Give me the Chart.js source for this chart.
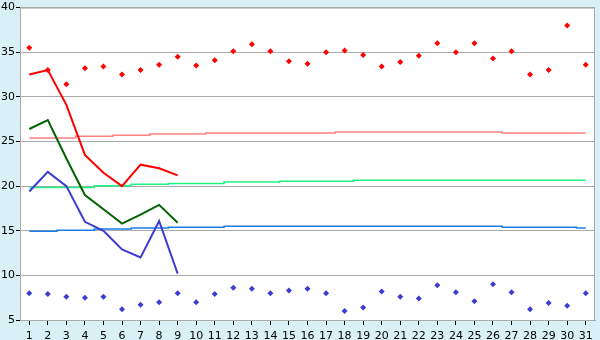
<!DOCTYPE html>
<html>
<head>
<meta charset="utf-8">
<script src="https://cdn.jsdelivr.net/npm/chart.js@4"></script>
<style>
  html, body { margin: 0; padding: 0; background: #daf0f7; }
  canvas { display: block; }
</style>
</head>
<body>
<canvas id="chart" width="600" height="340"></canvas>
<script>
const days = ['1','2','3','4','5','6','7','8','9','10','11','12','13','14','15','16',
  '17','18','19','20','21','22','23','24','25','26','27','28','29','30','31'];

// daily extremes (markers)
const dailyMax = [35.5, 33.0, 31.4, 33.2, 33.4, 32.5, 33.0, 33.6, 34.5, 33.5, 34.1, 35.1, 35.9, 35.1, 34.0, 33.7,
  35.0, 35.2, 34.7, 33.4, 33.9, 34.6, 36.0, 35.0, 36.0, 34.3, 35.1, 32.5, 33.0, 38.0, 33.6];
const dailyMin = [8.0, 7.9, 7.6, 7.5, 7.6, 6.2, 6.7, 7.0, 8.0, 7.0, 7.9, 8.6, 8.5, 8.0, 8.3, 8.5,
  8.0, 6.0, 6.4, 8.2, 7.6, 7.4, 8.9, 8.1, 7.1, 9.0, 8.1, 6.2, 6.9, 6.6, 8.0];

// current month lines
const curMax  = [32.5, 33.0, 29.1, 23.5, 21.5, 20.0, 22.4, 22.0, 21.2];
const curMean = [26.4, 27.4, 23.1, 19.0, 17.4, 15.8, 16.8, 17.9, 15.9];
const curMin  = [19.4, 21.6, 20.0, 16.0, 15.0, 12.9, 12.0, 16.1, 10.2];

// long-term averages
const avgMax  = [25.4, 25.4, 25.4, 25.6, 25.6, 25.7, 25.7, 25.85, 25.85, 25.85, 25.95, 25.95, 25.95, 25.95, 25.95, 25.95,
  25.95, 26.05, 26.05, 26.05, 26.05, 26.05, 26.05, 26.05, 26.05, 26.05, 25.95, 25.95, 25.95, 25.95, 25.95];
const avgMean = [19.85, 19.85, 19.85, 19.85, 20.05, 20.05, 20.2, 20.2, 20.3, 20.3, 20.3, 20.45, 20.45, 20.45, 20.55, 20.55,
  20.55, 20.55, 20.65, 20.65, 20.65, 20.65, 20.65, 20.65, 20.65, 20.65, 20.65, 20.65, 20.65, 20.65, 20.65];
const avgMin  = [14.95, 14.95, 15.05, 15.05, 15.2, 15.2, 15.3, 15.3, 15.4, 15.4, 15.4, 15.5, 15.5, 15.5, 15.5, 15.5,
  15.5, 15.5, 15.5, 15.5, 15.5, 15.5, 15.5, 15.5, 15.5, 15.5, 15.4, 15.4, 15.4, 15.4, 15.3];

const yMin = 5, yMax = 40, yStep = 5;

// white plot area with a grey frame
const frame = {
  id: 'frame',
  beforeDraw(chart) {
    const { ctx, chartArea: a } = chart;
    ctx.save();
    ctx.fillStyle = '#ffffff';
    ctx.fillRect(a.left, a.top, a.right - a.left, a.bottom - a.top);
    ctx.restore();
  },
  afterDraw(chart) {
    const { ctx, chartArea: a } = chart;
    ctx.save();
    ctx.strokeStyle = '#aaaaaa';
    ctx.lineWidth = 1;
    ctx.strokeRect(a.left + 0.5, a.top + 0.5, a.right - a.left - 1, a.bottom - a.top);
    ctx.restore();
  }
};

function line(data, color, width, order, stepped) {
  return {
    data: data,
    borderColor: color,
    borderWidth: width,
    pointRadius: 0,
    tension: 0,
    stepped: stepped || false,
    order: order,
    fill: false
  };
}

function dots(data, color) {
  return {
    data: data,
    showLine: false,
    pointStyle: 'rectRot',
    pointRadius: 3,
    pointBackgroundColor: color,
    pointBorderColor: color,
    pointBorderWidth: 0,
    order: 0
  };
}

new Chart(document.getElementById('chart'), {
  type: 'line',
  data: {
    labels: days,
    datasets: [
      dots(dailyMax, '#ff0000'),
      dots(dailyMin, '#3c3cd2'),
      line(curMax, '#ff0000', 2, 1),
      line(curMean, '#006400', 2, 1),
      line(curMin, '#3c3cd2', 2, 1),
      line(avgMax, '#ff8080', 1.5, 5, 'middle'),
      line(avgMean, '#1ef283', 1.5, 5, 'middle'),
      line(avgMin, '#1a7ee6', 1.5, 5, 'middle')
    ]
  },
  options: {
    responsive: false,
    animation: false,
    devicePixelRatio: 1,
    layout: { padding: { top: 5, right: 5, left: 0, bottom: 0 } },
    plugins: {
      legend: { display: false },
      tooltip: { enabled: false }
    },
    scales: {
      x: {
        offset: true,
        grid: { drawOnChartArea: false, tickLength: 5, tickColor: '#000000' },
        border: { color: '#aaaaaa' },
        ticks: {
          color: '#000000',
          font: { family: 'DejaVu Sans', size: 11 },
          padding: 5,
          maxRotation: 0,
          autoSkip: false
        },
        afterFit(scale) { scale.height = 20; }
      },
      y: {
        min: yMin,
        max: yMax,
        grid: { color: '#aaaaaa', tickLength: 4, tickColor: '#000000' },
        border: { color: '#aaaaaa' },
        ticks: {
          stepSize: yStep,
          color: '#000000',
          font: { family: 'DejaVu Sans', size: 11 },
          padding: 1
        },
        afterFit(scale) { scale.width = 20; }
      }
    }
  },
  plugins: [frame]
});
</script>
</body>
</html>
